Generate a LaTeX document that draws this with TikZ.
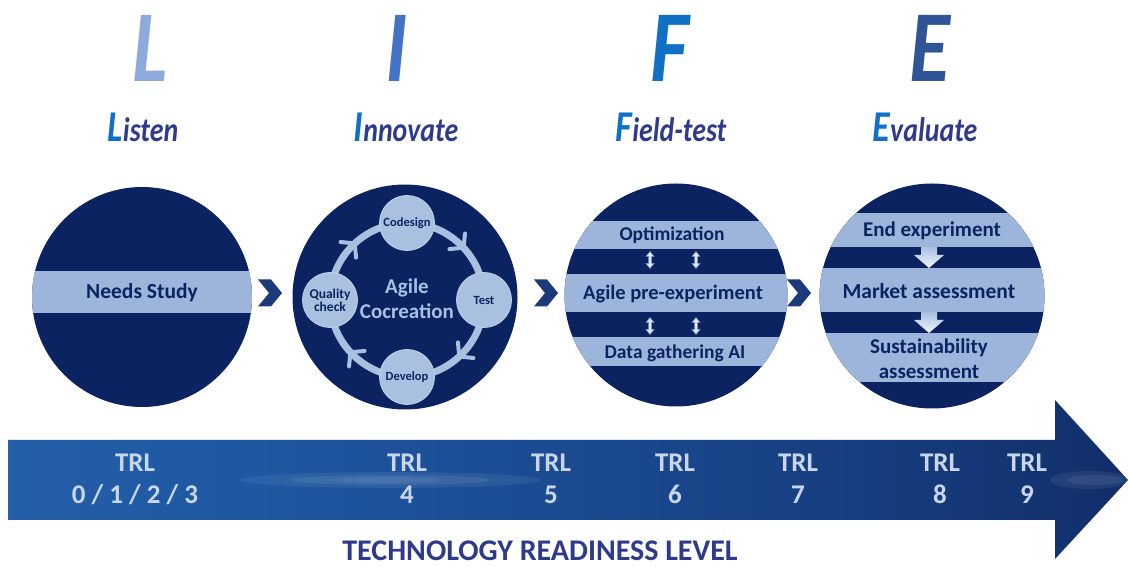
\documentclass[tikz,border=0pt]{standalone}
\usepackage{fontspec}
\setmainfont{Carlito}
\usetikzlibrary{decorations.markings}
\definecolor{navy}{HTML}{0B2461}
\definecolor{band}{HTML}{9DB5DA}
\definecolor{lightc}{HTML}{A9C0E1}
\definecolor{chevc}{HTML}{1B3A7A}
\definecolor{Lc}{HTML}{8EA9DB}
\definecolor{Ic}{HTML}{4472C4}
\definecolor{Fc}{HTML}{1070C6}
\definecolor{Ec}{HTML}{2F5597}
\definecolor{subc}{HTML}{2E3A8C}
\definecolor{trlc}{HTML}{C9D6EA}
\definecolor{a1}{HTML}{2F6FB6}
\definecolor{a2}{HTML}{1F58A2}
\definecolor{a3}{HTML}{173F82}
\definecolor{a4}{HTML}{0C1D52}
\definecolor{a5}{HTML}{4D7FBF}
\pgfdeclarehorizontalshading{trlbar}{100bp}{color(0bp)=(a1); color(35bp)=(a2); color(62bp)=(a3); color(88bp)=(a4); color(94bp)=(a4); color(100bp)=(a5)}
\tikzset{
  bigletter/.style={inner sep=0pt, font=\fontsize{102}{102}\selectfont\bfseries\itshape},
  subtitle/.style={inner sep=0pt, anchor=base, text=subc, font=\fontsize{34}{34}\selectfont\bfseries\itshape},
  bigcirc/.style={circle, fill=navy, inner sep=0pt},
  bandtext/.style={inner sep=0pt, text=navy, font=\fontsize{19.5}{22}\selectfont\bfseries, align=center},
  smallcirc/.style={circle, fill=lightc, draw=lightc!70!white, line width=0.8pt, minimum size=55pt, inner sep=0pt, text=navy, font=\fontsize{12.5}{13}\selectfont\bfseries, align=center},
  trl/.style={inner sep=0pt, text=trlc, align=center, font=\fontsize{27}{32}\selectfont\bfseries},
  glow/.style={fill=white, opacity=0.07},
  ringmark/.style={draw=lightc, line width=4pt, line cap=round},
  chevron/.pic={\fill[chevc] (-12,13.5) -- (1,13.5) -- (12,0) -- (1,-13.5) -- (-12,-13.5) -- (-1,0) -- cycle;},
  dblarrow/.pic={\filldraw[fill=trlc!60!white, draw=navy!30!lightc, line width=0.5pt] (0,8.5) -- (4,3.5) -- (1.5,3.5) -- (1.5,-3.5) -- (4,-3.5) -- (0,-8.5) -- (-4,-3.5) -- (-1.5,-3.5) -- (-1.5,3.5) -- (-4,3.5) -- cycle;},
  downarrow/.pic={\shade[top color=lightc, bottom color=white!85!lightc] (-8,0) -- (8,0) -- (8,-8) -- (15,-8) -- (0,-21) -- (-15,-8) -- (-8,-8) -- cycle;}
}
\begin{document}
\begin{tikzpicture}[x=1pt,y=1pt]
\useasboundingbox (0,0) rectangle (1129,567);
% headings
\node[bigletter, text=Lc] (hL) at (150,519) {\scalebox{0.82}[1]{L}};
\node[bigletter, text=Ic] (hI) at (397,519) {\scalebox{0.82}[1]{I}};
\node[bigletter, text=Fc] (hF) at (670,519) {\scalebox{0.82}[1]{F}};
\node[bigletter, text=Ec] (hE) at (930,519) {\scalebox{0.82}[1]{E}};
\node[subtitle] (sL) at (143,425) {\scalebox{0.82}[1]{{\color{Fc}\fontsize{44}{44}\selectfont L}isten}};
\node[subtitle] (sI) at (406,425) {\scalebox{0.82}[1]{{\color{Fc}\fontsize{44}{44}\selectfont I}nnovate}};
\node[subtitle] (sF) at (671,425) {\scalebox{0.82}[1]{{\color{Fc}\fontsize{44}{44}\selectfont F}ield-test}};
\node[subtitle] (sE) at (925,425) {\scalebox{0.82}[1]{{\color{Fc}\fontsize{44}{44}\selectfont E}valuate}};

% circle 1
\node[bigcirc, minimum size=220pt] (c1) at (142,270) {};
\begin{scope}
  \clip (142,270) circle[radius=110pt];
  \fill[band] (30,254) rectangle (260,296);
\end{scope}
\node[bandtext, font=\fontsize{21.5}{24}\selectfont\bfseries] (t1) at (142,274) {Needs Study};

% circle 2
\node[bigcirc, minimum size=225pt] (c2) at (405,270) {};
\coordinate (rc) at (407,267);
\draw[lightc, line width=7pt, postaction={decorate}, decoration={markings,
  mark=at position 0.125 with {\draw[ringmark] (6,11) -- (-3,0) -- (6,-11);},
  mark=at position 0.375 with {\draw[ringmark] (6,11) -- (-3,0) -- (6,-11);},
  mark=at position 0.625 with {\draw[ringmark] (6,11) -- (-3,0) -- (6,-11);},
  mark=at position 0.875 with {\draw[ringmark] (6,11) -- (-3,0) -- (6,-11);}}]
  (rc) circle[radius=77pt];
\node[smallcirc] (cod) at (407,344) {Codesign};
\node[smallcirc] (tst) at (484,267) {Test};
\node[smallcirc] (dev) at (407,190) {Develop};
\node[smallcirc, font=\fontsize{13.5}{14}\selectfont\bfseries] (qc) at (330,267) {Quality\\[-1pt]check};
\node[inner sep=0pt, text=lightc, font=\fontsize{21}{25}\selectfont\bfseries, align=center] (agc) at (407,268) {Agile\\Cocreation};

% circle 3
\node[bigcirc, minimum size=223pt] (c3) at (676,272) {};
\begin{scope}
  \clip (676,272) circle[radius=111.5pt];
  \fill[band] (560,318) rectangle (795,346);
  \fill[band] (560,255) rectangle (795,293);
  \fill[band] (560,201) rectangle (795,230);
\end{scope}
\node[bandtext] (opt) at (672,332) {Optimization};
\node[bandtext, font=\fontsize{20.5}{22}\selectfont\bfseries] (ape) at (673,273) {Agile pre-experiment};
\node[bandtext] (dga) at (675,214) {Data gathering AI};
\pic at (650,307) {dblarrow};
\pic at (696,307) {dblarrow};
\pic at (650,241) {dblarrow};
\pic at (696,241) {dblarrow};

% circle 4
\node[bigcirc, minimum size=225pt] (c4) at (932,271) {};
\begin{scope}
  \clip (932,271) circle[radius=112.5pt];
  \fill[band] (815,320) rectangle (1050,354);
  \fill[band] (815,255) rectangle (1050,299);
  \fill[band] (815,185) rectangle (1050,234);
\end{scope}
\node[bandtext, font=\fontsize{21}{24}\selectfont\bfseries] (ee) at (932,336) {End experiment};
\node[bandtext, font=\fontsize{21.5}{24}\selectfont\bfseries] (ma) at (929,276) {Market assessment};
\node[bandtext, font=\fontsize{21}{25}\selectfont\bfseries] (sa) at (929,208.5) {Sustainability\\assessment};
\pic at (929,320) {downarrow};
\pic at (929,255) {downarrow};

% chevrons between circles
\pic at (270,274) {chevron};
\pic at (546,274) {chevron};
\pic at (799,274) {chevron};

% TRL arrow
\shade[shading=trlbar] (8,47) -- (1055,47) -- (1055,8) -- (1128,87) -- (1055,167) -- (1055,127) -- (8,127) -- cycle;
\fill[glow] (390,87) ellipse[x radius=150pt, y radius=8pt];
\fill[glow] (390,87) ellipse[x radius=100pt, y radius=5pt];
\fill[glow] (390,87) ellipse[x radius=50pt, y radius=3pt];
\fill[glow] (1090,87) ellipse[x radius=40pt, y radius=9pt];
\fill[glow] (1095,87) ellipse[x radius=28pt, y radius=5pt];
\node[trl] (r0) at (135,88) {TRL\\0 / 1 / 2 / 3};
\node[trl] (r4) at (407,88) {TRL\\4};
\node[trl] (r5) at (551,88) {TRL\\5};
\node[trl] (r6) at (675,88) {TRL\\6};
\node[trl] (r7) at (798,88) {TRL\\7};
\node[trl] (r8) at (940,88) {TRL\\8};
\node[trl] (r9) at (1027,88) {TRL\\9};
\node[inner sep=0pt, text=subc, font=\fontsize{30}{32}\selectfont\bfseries] (trlt) at (540,16.5) {TECHNOLOGY READINESS LEVEL};
\end{tikzpicture}
\end{document}
